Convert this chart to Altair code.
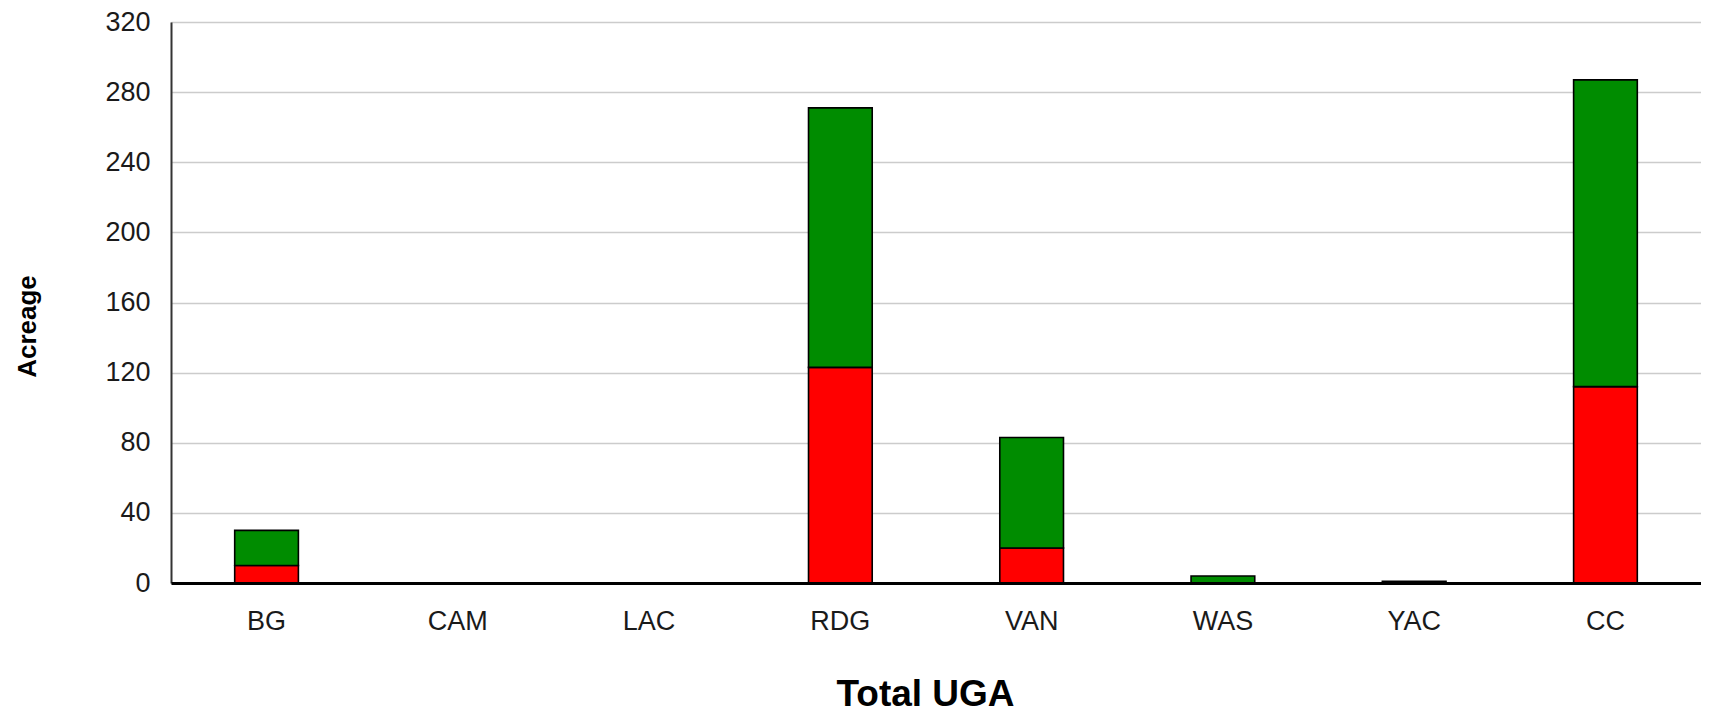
import altair as alt
import pandas as pd

categories = ["BG", "CAM", "LAC", "RDG", "VAN", "WAS", "YAC", "CC"]
red_values = [10, 0, 0, 123, 20, 0, 0, 112]
green_values = [20, 0, 0, 148, 63, 4, 1, 175]
y_ticks = [0, 40, 80, 120, 160, 200, 240, 280, 320]

rows = []
for c, r, g in zip(categories, red_values, green_values):
    rows.append({"uga": c, "series": "red", "ord": 0, "acreage": r})
    rows.append({"uga": c, "series": "green", "ord": 1, "acreage": g})
df = pd.DataFrame(rows)

FONT = "Liberation Sans"

chart = alt.Chart(df).mark_bar(stroke="black", strokeWidth=1.6).encode(
    x=alt.X(
        "uga:N",
        sort=categories,
        scale=alt.Scale(paddingInner=0.667, paddingOuter=0.333),
        axis=alt.Axis(
            title="Total UGA",
            labelAngle=0,
            ticks=False,
            tickSize=0,
            grid=False,
            domainColor="black",
            domainWidth=3,
            labelFont=FONT,
            labelFontSize=27,
            labelColor="#1a1a1a",
            labelBaseline="alphabetic",
            labelPadding=46,
            titleFont=FONT,
            titleFontSize=37,
            titleFontWeight="bold",
            titleColor="black",
            titleX=754,
            titleY=122,
            titleAlign="center",
            titleBaseline="alphabetic",
            zindex=1,
        ),
    ),
    y=alt.Y(
        "acreage:Q",
        stack="zero",
        scale=alt.Scale(domain=[0, 320], nice=False),
        axis=alt.Axis(
            title="Acreage",
            values=y_ticks,
            ticks=False,
            tickSize=0,
            grid=True,
            gridColor="#cccccc",
            gridWidth=1.5,
            domainColor="#333333",
            domainWidth=2,
            labelFont=FONT,
            labelFontSize=27,
            labelColor="#1a1a1a",
            labelPadding=21,
            titleFont=FONT,
            titleFontSize=26,
            titleFontWeight="bold",
            titleColor="black",
            titleAngle=270,
            titleX=-144,
            titleY=304,
            titleAlign="center",
            titleBaseline="middle",
        ),
    ),
    color=alt.Color(
        "series:N",
        scale=alt.Scale(domain=["red", "green"], range=["#ff0000", "#008c00"]),
        legend=None,
    ),
    order=alt.Order("ord:Q", sort="ascending"),
).properties(
    width=1530,
    height=561,
    autosize=alt.AutoSizeParams(type="none"),
    padding={"left": 163, "top": 14, "right": 0, "bottom": 131},
).configure_view(
    stroke="#c0c0c0",
    strokeWidth=1.5,
).configure(
    background="white",
)

chart.save("out.html", embed_options={"renderer": "svg", "actions": False})
